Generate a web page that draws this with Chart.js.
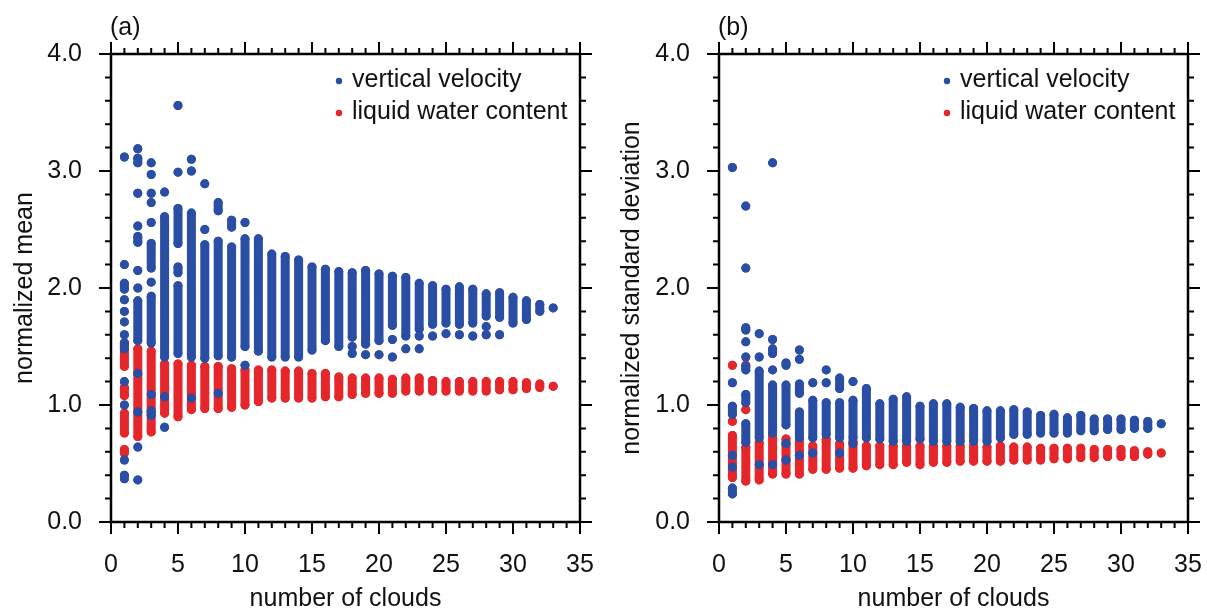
<!DOCTYPE html>
<html>
<head>
<meta charset="utf-8">
<script src="https://cdn.jsdelivr.net/npm/chart.js@4.4.1/dist/chart.umd.min.js"></script>
<style>
  body { margin: 0; background: #fff; }
  #wrap { position: relative; width: 1207px; height: 615px; }
  canvas { position: absolute; top: 0; }
</style>
</head>
<body>
<div id="wrap">
  <canvas id="panelA" width="603" height="615" style="left:0"></canvas>
  <canvas id="panelB" width="604" height="615" style="left:603px"></canvas>
</div>
<script>
// number of clouds (x categories)
const clouds = [1,2,3,4,5,6,7,8,9,10,11,12,13,14,15,16,17,18,19,20,21,22,23,24,25,26,27,28,29,30,31,32,33];

// each entry: the dots seen at that cloud count, as runs [top, bottom] of touching dots or single dots [v]
// (a) normalized mean, vertical velocity
const meanVV = [
  [[3.12],[2.20],[2.04,1.99],[1.90],[1.80],[1.71],[1.60],[1.53,1.48],[1.20],[1.00],[0.53],[0.40],[0.37]],
  [[3.19],[3.11,3.07],[2.81],[2.53],[2.44,2.39],[2.15],[2.00],[1.89,1.55],[1.27],[0.94],[0.64],[0.36]],
  [[3.07],[2.97],[2.81],[2.73],[2.56],[2.38,2.17],[2.05],[1.93,1.53],[1.09],[0.95,0.91]],
  [[2.82],[2.61,1.41],[1.07],[0.81]],
  [[3.56],[2.99],[2.68,2.38],[2.18,2.13],[2.02,1.44]],
  [[3.10],[3.00],[2.64,1.41],[1.06]],
  [[2.89],[2.50],[2.37,1.40]],
  [[2.73,2.66],[2.40,1.42],[1.10]],
  [[2.58,2.52],[2.35,1.41]],
  [[2.56],[2.42,1.50],[1.34]],
  [[2.42,1.46]],
  [[2.29,1.41]],
  [[2.27,1.41]],
  [[2.24,1.41]],
  [[2.18,1.47]],
  [[2.16,1.55]],
  [[2.14,1.50]],
  [[2.13,1.58],[1.50],[1.44]],
  [[2.15,1.52],[1.43]],
  [[2.12,1.55],[1.43]],
  [[2.10,1.68],[1.56],[1.41]],
  [[2.09,1.59],[1.48]],
  [[2.04,1.65],[1.59],[1.48]],
  [[2.02,1.69],[1.59]],
  [[1.99,1.70],[1.61]],
  [[2.01,1.69],[1.60]],
  [[1.99,1.70],[1.59]],
  [[1.95,1.76],[1.67],[1.60]],
  [[1.96,1.75],[1.60]],
  [[1.92,1.70]],
  [[1.89,1.73]],
  [[1.86,1.80]],
  [[1.83]]
];

// (a) normalized mean, liquid water content
const meanLWC = [
  [[1.53,1.33],[1.15,1.08],[0.93,0.76],[0.62,0.59]],
  [[1.48,0.73]],
  [[1.46,0.77]],
  [[1.35,0.93]],
  [[1.35,0.90]],
  [[1.34,0.96]],
  [[1.33,0.97]],
  [[1.33,0.97]],
  [[1.31,0.98]],
  [[1.30,1.00]],
  [[1.30,1.03]],
  [[1.30,1.06]],
  [[1.29,1.06]],
  [[1.29,1.06]],
  [[1.27,1.06]],
  [[1.27,1.07]],
  [[1.24,1.07]],
  [[1.23,1.09]],
  [[1.23,1.10]],
  [[1.23,1.10]],
  [[1.22,1.10]],
  [[1.23,1.12]],
  [[1.23,1.12]],
  [[1.21,1.12]],
  [[1.20,1.12]],
  [[1.20,1.12]],
  [[1.20,1.12]],
  [[1.20,1.12]],
  [[1.20,1.13]],
  [[1.20,1.13]],
  [[1.19,1.14]],
  [[1.18,1.15]],
  [[1.16]]
];

// (b) normalized standard deviation, vertical velocity
const stdVV = [
  [[3.03],[1.19],[0.99,0.92],[0.57],[0.47],[0.29,0.24]],
  [[2.70],[2.17],[1.66,1.64],[1.54],[1.41],[1.33,1.30],[1.09,1.02],[0.84,0.68]],
  [[1.61],[1.41],[1.29,0.72],[0.49]],
  [[3.07],[1.56],[1.48,1.44],[1.30],[1.17,0.76],[0.49]],
  [[1.36,1.34],[1.17,0.83],[0.67],[0.53]],
  [[1.47],[1.39],[1.18,1.10],[0.94,0.72],[0.57]],
  [[1.19],[1.04,0.72],[0.59]],
  [[1.30],[1.19],[1.02,0.75]],
  [[1.23,1.14],[1.02,0.72],[0.59]],
  [[1.20],[1.04,0.72],[0.67]],
  [[1.14,0.72]],
  [[1.01,0.71]],
  [[1.05,0.69]],
  [[1.07,0.69]],
  [[0.99,0.71]],
  [[1.01,0.69]],
  [[1.01,0.69]],
  [[0.98,0.69]],
  [[0.97,0.69]],
  [[0.95,0.69]],
  [[0.95,0.72]],
  [[0.96,0.75]],
  [[0.94,0.75]],
  [[0.91,0.76]],
  [[0.92,0.76]],
  [[0.89,0.76]],
  [[0.91,0.78]],
  [[0.88,0.78]],
  [[0.88,0.79]],
  [[0.88,0.79]],
  [[0.87,0.80]],
  [[0.86,0.80]],
  [[0.84]]
];

// (b) normalized standard deviation, liquid water content
const stdLWC = [
  [[1.34],[0.86],[0.74,0.38]],
  [[1.34],[0.96],[0.64,0.35]],
  [[0.68,0.36]],
  [[0.74,0.41]],
  [[0.71,0.41]],
  [[0.71,0.41]],
  [[0.65,0.45]],
  [[0.71,0.45]],
  [[0.67,0.46]],
  [[0.69,0.46]],
  [[0.65,0.48]],
  [[0.65,0.49]],
  [[0.65,0.49]],
  [[0.65,0.51]],
  [[0.65,0.49]],
  [[0.65,0.51]],
  [[0.65,0.51]],
  [[0.65,0.52]],
  [[0.65,0.52]],
  [[0.64,0.52]],
  [[0.65,0.52]],
  [[0.64,0.53]],
  [[0.64,0.53]],
  [[0.63,0.53]],
  [[0.63,0.54]],
  [[0.63,0.54]],
  [[0.63,0.55]],
  [[0.62,0.55]],
  [[0.62,0.56]],
  [[0.62,0.56]],
  [[0.61,0.56]],
  [[0.60,0.58]],
  [[0.59]]
];

const BLUE = '#2b4ea5';
const RED = '#e5262a';
const FONT = "'Liberation Sans', Arial, Helvetica, sans-serif";

// runs -> scatter points, a null between runs breaks the stroke
function toPoints(runs) {
  const pts = [];
  runs.forEach((col, i) => {
    col.forEach(run => {
      run.forEach(v => pts.push({x: clouds[i], y: v}));
      pts.push({x: clouds[i], y: null});
    });
  });
  return pts;
}

function series(label, color, runs, order) {
  return {
    label: label,
    data: toPoints(runs),
    order: order,
    showLine: true,
    spanGaps: false,
    borderColor: color,
    backgroundColor: color,
    borderWidth: 9,
    borderCapStyle: 'round',
    pointRadius: 4.5,
    pointBorderWidth: 0,
    pointHoverRadius: 4.5
  };
}

// frame with outward ticks on all four sides, panel letter and legend
const frameTicks = {
  id: 'frameTicks',
  afterDraw(chart, args, opts) {
    const {ctx, chartArea: a, scales: {x, y}} = chart;
    ctx.save();
    ctx.strokeStyle = '#000';
    ctx.lineWidth = 2;
    ctx.beginPath();
    for (let v = 0; v <= 35; v++) {
      const px = x.getPixelForValue(v);
      const len = v % 5 === 0 ? 12 : 6;
      ctx.moveTo(px, a.bottom); ctx.lineTo(px, a.bottom + len);
      ctx.moveTo(px, a.top); ctx.lineTo(px, a.top - len);
    }
    for (let k = 0; k <= 20; k++) {
      const py = y.getPixelForValue(k / 5);
      const len = k % 5 === 0 ? 12 : 6;
      ctx.moveTo(a.left, py); ctx.lineTo(a.left - len, py);
      ctx.moveTo(a.right, py); ctx.lineTo(a.right + len, py);
    }
    ctx.stroke();
    ctx.lineWidth = 2.5;
    ctx.strokeRect(a.left, a.top, a.right - a.left, a.bottom - a.top);

    ctx.fillStyle = '#111';
    ctx.font = '25px ' + FONT;
    ctx.textBaseline = 'middle';
    ctx.textAlign = 'left';
    ctx.fillText(opts.letter, a.left - 1, 28);

    chart.data.datasets.forEach((ds, i) => {
      const ty = a.top + 26 + i * 32;
      const tx = a.right - 228;
      ctx.fillStyle = ds.backgroundColor;
      ctx.beginPath();
      ctx.arc(tx - 13, ty + 1, 3.2, 0, Math.PI * 2);
      ctx.fill();
      ctx.fillStyle = '#111';
      ctx.fillText(ds.label, tx, ty);
    });
    ctx.restore();
  }
};

function makePanel(id, vv, lwc, yTitle, letter, yWidth, yTitlePad, rightPad) {
  return new Chart(document.getElementById(id), {
    type: 'scatter',
    data: {
      datasets: [
        series('vertical velocity', BLUE, vv, 0),
        series('liquid water content', RED, lwc, 1)
      ]
    },
    options: {
      responsive: false,
      animation: false,
      events: [],
      layout: {padding: {top: 54, right: rightPad, bottom: 0, left: 0}},
      plugins: {
        legend: {display: false},
        tooltip: {enabled: false},
        frameTicks: {letter: letter}
      },
      scales: {
        x: {
          type: 'linear',
          min: 0,
          max: 35,
          grid: {display: false, drawTicks: false},
          border: {display: false},
          ticks: {stepSize: 5, padding: 28, color: '#111', font: {size: 25, family: FONT}, maxRotation: 0, autoSkip: false},
          title: {display: true, text: 'number of clouds', color: '#111', font: {size: 25, family: FONT}, padding: {top: 0, bottom: 1}},
          afterFit: s => { s.height = 93; s.paddingLeft = 0; s.paddingRight = 0; }
        },
        y: {
          min: 0,
          max: 4,
          grid: {display: false, drawTicks: false},
          border: {display: false},
          ticks: {stepSize: 1, padding: 29, color: '#111', font: {size: 25, family: FONT}, callback: v => v.toFixed(1)},
          title: {display: true, text: yTitle, color: '#111', font: {size: 25, family: FONT}, padding: {top: yTitlePad, bottom: 0}},
          afterFit: s => { s.width = yWidth; s.paddingTop = 0; s.paddingBottom = 0; }
        }
      }
    },
    plugins: [frameTicks]
  });
}

makePanel('panelA', meanVV, meanLWC, 'normalized mean', '(a)', 111, 10, 23);
makePanel('panelB', stdVV, stdLWC, 'normalized standard deviation', '(b)', 116, 14, 19);
</script>
</body>
</html>
